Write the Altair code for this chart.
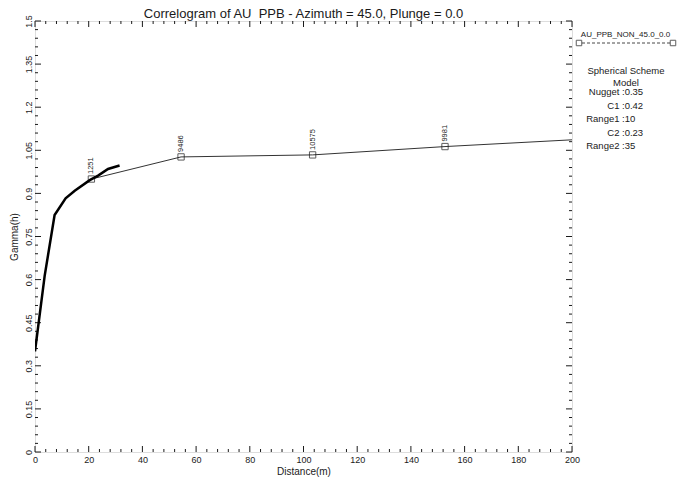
import altair as alt
import pandas as pd

# ---- data ----
# experimental correlogram points: lag distance, gamma, number of pairs
exp_dist = [21.0, 54.4, 103.4, 152.7, 205.0]
exp_gamma = [0.950, 1.027, 1.034, 1.063, 1.089]
exp_pairs = ["1251", "9486", "10575", "9981", ""]

# fitted spherical model curve
model_dist = [0.0, 3.6, 7.3, 11.4, 14.8, 20.4, 23.5, 27.2, 31.5]
model_gamma = [0.35, 0.613, 0.825, 0.883, 0.909, 0.946, 0.962, 0.985, 0.997]

# axis ticks / labels
x_major = [0, 20, 40, 60, 80, 100, 120, 140, 160, 180, 200]
x_minor = [v for v in range(0, 201, 4) if v % 20]
y_major = [0, 0.15, 0.3, 0.45, 0.6, 0.75, 0.9, 1.05, 1.2, 1.35, 1.5]
y_minor = [round(i * 0.03, 2) for i in range(51) if i % 5]

# legend / model text
series_name = "AU_PPB_NON_45.0_0.0"
scheme_lines = ["Spherical Scheme", "Model"]
param_names = ["Nugget", "C1", "Range1", "C2", "Range2"]
param_values = ["0.35", "0.42", "10", "0.23", "35"]

title_text = "Correlogram of AU\u00a0 PPB - Azimuth = 45.0, Plunge = 0.0"

FONT = "Liberation Sans"
INK = "#1a1a1a"
W, H = 537, 431

xs = alt.Scale(domain=[0, 200], nice=False, zero=False)
ys = alt.Scale(domain=[0, 1.5], nice=False, zero=False)

exp_df = pd.DataFrame({"dist": exp_dist, "gamma": exp_gamma, "pairs": exp_pairs})
model_df = pd.DataFrame({"dist": model_dist, "gamma": model_gamma})

x_axis = alt.Axis(
    values=x_major, title="Distance(m)", format="d", ticks=False, tickSize=0,
    domain=False, grid=False, labelFont=FONT, labelFontSize=9, labelColor=INK,
    labelPadding=3, labelFlush=False, titleFont=FONT, titleFontSize=10,
    titleFontWeight="normal", titleColor=INK, titlePadding=2,
)
y_axis = alt.Axis(
    values=y_major, title="Gamma(h)", format=".3~g", ticks=False, tickSize=0,
    domain=False, grid=False, labelFont=FONT, labelFontSize=9, labelColor=INK,
    labelPadding=2, labelAngle=270, labelFlush=False, labelOverlap=False,
    titleFont=FONT, titleFontSize=10, titleFontWeight="normal", titleColor=INK,
    titlePadding=5,
)

exp_line = alt.Chart(exp_df).mark_line(color="#333333", strokeWidth=1, clip=True).encode(
    x=alt.X("dist:Q", scale=xs, axis=x_axis),
    y=alt.Y("gamma:Q", scale=ys, axis=y_axis),
    order="dist:Q",
)
exp_pts = alt.Chart(exp_df).mark_point(
    shape="square", size=40, filled=False, color=INK, strokeWidth=1, clip=True
).encode(
    x=alt.X("dist:Q", scale=xs),
    y=alt.Y("gamma:Q", scale=ys),
)
exp_lab = alt.Chart(exp_df).mark_text(
    angle=270, align="left", baseline="middle", dx=5, fontSize=7.5, font=FONT,
    color=INK, clip=True
).encode(
    x=alt.X("dist:Q", scale=xs),
    y=alt.Y("gamma:Q", scale=ys),
    text="pairs:N",
)
model_line = alt.Chart(model_df).mark_line(color="#000000", strokeWidth=2.5, clip=True).encode(
    x=alt.X("dist:Q", scale=xs),
    y=alt.Y("gamma:Q", scale=ys),
    order="dist:Q",
)


def xticks(vals, y1, y2):
    return alt.Chart(pd.DataFrame({"v": vals})).mark_rule(color=INK, strokeWidth=1).encode(
        x=alt.X("v:Q", scale=xs), y=alt.value(y1), y2=alt.value(y2)
    )


def yticks(vals, x1, x2):
    return alt.Chart(pd.DataFrame({"v": vals})).mark_rule(color=INK, strokeWidth=1).encode(
        y=alt.Y("v:Q", scale=ys), x=alt.value(x1), x2=alt.value(x2)
    )


tick_layers = [
    xticks(x_major, H, H - 6), xticks(x_minor, H, H - 3),
    xticks(x_major, 0, 6), xticks(x_minor, 0, 3),
    yticks(y_major, 0, 6), yticks(y_minor, 0, 3),
    yticks(y_major, W, W - 6), yticks(y_minor, W, W - 3),
]

one = pd.DataFrame({"k": [0]})
OX, OY = 35, 21  # plot origin in page pixels, for text placement


def leg_square(px):
    return alt.Chart(one).mark_point(
        shape="square", size=30, filled=False, color=INK, strokeWidth=1
    ).encode(x=alt.value(px - OX), y=alt.value(43 - OY))


title_mark = alt.Chart(one).mark_text(
    fontSize=13, font=FONT, color=INK, align="center", baseline="alphabetic"
).encode(x=alt.value(303.5 - OX), y=alt.value(17.5 - OY), text=alt.value(title_text))
leg_name = alt.Chart(one).mark_text(
    fontSize=8, font=FONT, color=INK, align="center", baseline="middle"
).encode(x=alt.value(625.5 - OX), y=alt.value(35 - OY), text=alt.value(series_name))
leg_dash = alt.Chart(one).mark_rule(color=INK, strokeWidth=0.8, strokeDash=[3, 2]).encode(
    x=alt.value(582 - OX), x2=alt.value(670 - OX), y=alt.value(43 - OY)
)
scheme = alt.Chart(one).mark_text(
    fontSize=9.5, font=FONT, color=INK, align="center", baseline="alphabetic", lineHeight=12
).encode(x=alt.value(626 - OX), y=alt.value(73.5 - OY), text=alt.value(scheme_lines))
pnames = alt.Chart(one).mark_text(
    fontSize=9.5, font=FONT, color=INK, align="right", baseline="alphabetic", lineHeight=13.6
).encode(x=alt.value(619.5 - OX), y=alt.value(95 - OY), text=alt.value(param_names))
pvals = alt.Chart(one).mark_text(
    fontSize=9.5, font=FONT, color=INK, align="left", baseline="alphabetic", lineHeight=13.6
).encode(x=alt.value(622 - OX), y=alt.value(95 - OY), text=alt.value([":" + v for v in param_values]))

chart = alt.layer(
    exp_line, *tick_layers, exp_pts, exp_lab, model_line, title_mark,
    leg_name, leg_square(579), leg_square(673), leg_dash, scheme, pnames, pvals,
).properties(
    width=W, height=H,
    autosize=alt.AutoSizeParams(type="none"),
    padding={"left": OX, "top": OY, "right": 677 - OX - W, "bottom": 480 - OY - H},
).configure_view(stroke=INK, strokeWidth=1).configure(background="white")

chart.save("out.html", embed_options={"renderer": "svg", "actions": False})
